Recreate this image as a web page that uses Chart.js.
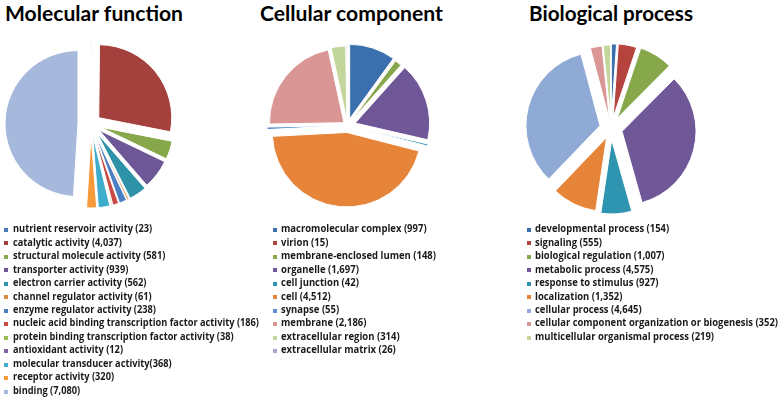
<!DOCTYPE html>
<html>
<head>
<meta charset="utf-8">
<script src="https://cdn.jsdelivr.net/npm/chart.js@4"></script>
<style>
  html, body { margin:0; padding:0; background:#fff; }
  body { width:780px; height:398px; position:relative; overflow:hidden; font-family: Lato, "Open Sans", sans-serif; }
  canvas { position:absolute; }
  .title { position:absolute; top:0; font-weight:700; font-size:21px; line-height:1.2; color:#000; white-space:nowrap; transform-origin:0 0; }
  .legend { position:absolute; top:222.5px; font-family: "Open Sans", Lato, sans-serif; }
  .row { position:relative; height:13.47px; line-height:13.47px; font-size:10.5px; font-weight:700; color:#1a1a1a; white-space:nowrap; }
  .sw { position:absolute; top:5.5px; width:4px; height:4px; }
  .txt { position:absolute; top:-0.3px; display:inline-block; transform-origin:0 50%; }
</style>
</head>
<body>
<div class="title" id="t1" style="left:5px">Molecular function</div>
<div class="title" id="t2" style="left:260px">Cellular component</div>
<div class="title" id="t3" style="left:529px">Biological process</div>

<canvas id="c1" width="200" height="200" style="left:-9px; top:24px"></canvas>
<canvas id="c2" width="199" height="199" style="left:248px; top:26px"></canvas>
<canvas id="c3" width="200" height="199" style="left:511px; top:29px"></canvas>

<div class="legend" id="l1" style="left:0px"></div>
<div class="legend" id="l2" style="left:0px"></div>
<div class="legend" id="l3" style="left:0px"></div>

<script>
// ---- Data ----
const mfTitle = 'Molecular function';
const mfLabels = [
  'nutrient reservoir activity (23)',
  'catalytic activity (4,037)',
  'structural molecule activity (581)',
  'transporter activity (939)',
  'electron carrier activity (562)',
  'channel regulator activity (61)',
  'enzyme regulator activity (238)',
  'nucleic acid binding transcription factor activity (186)',
  'protein binding transcription factor activity (38)',
  'antioxidant activity (12)',
  'molecular transducer activity(368)',
  'receptor activity (320)',
  'binding (7,080)'
];
const mfValues = [23, 4037, 581, 939, 562, 61, 238, 186, 38, 12, 368, 320, 7080];

const ccTitle = 'Cellular component';
const ccLabels = [
  'macromolecular complex (997)',
  'virion (15)',
  'membrane-enclosed lumen (148)',
  'organelle (1,697)',
  'cell junction (42)',
  'cell (4,512)',
  'synapse (55)',
  'membrane (2,186)',
  'extracellular region (314)',
  'extracellular matrix (26)'
];
const ccValues = [997, 15, 148, 1697, 42, 4512, 55, 2186, 314, 26];

const bpTitle = 'Biological process';
const bpLabels = [
  'developmental process (154)',
  'signaling (555)',
  'biological regulation (1,007)',
  'metabolic process (4,575)',
  'response to stimulus (927)',
  'localization (1,352)',
  'cellular process (4,645)',
  'cellular component organization or biogenesis (352)',
  'multicellular organismal process (219)'
];
const bpValues = [154, 555, 1007, 4575, 927, 1352, 4645, 352, 219];

// ---- Styles ----
const mfColors = ['#4a7ebb','#a5413c','#86a84a','#6e5796','#2e93a8','#d98a40','#4a7fc4','#c84a44','#9bbb59','#8064a2','#3eaccb','#f79a3c','#a6b9dc'];
const ccColors = ['#3a70ad','#b5443f','#86a84a','#6f5798','#2e94b0','#e6853a','#5b8fcf','#d99694','#c3d69b','#b3a2c7'];
const bpColors = ['#3a70ad','#b5443f','#86a84a','#6f5798','#2e94b0','#e6853a','#8faad4','#d99694','#c3d69b'];
const mfExplode = [11,10,10,10,11,11,11,11,11,11,11,11,13];
const ccExplode = [7,6,6,8,8,7,6,4.5,5,5];
const bpExplode = [10.5,11,12,11.4,11.5,10,11.4,9,9.5];

// plugin: pull each slice out along its mid angle
const explodePlugin = {
  id: 'explode',
  beforeDatasetDraw(chart, args, opts) {
    const ca = chart.chartArea;
    const cx = (ca.left + ca.right) / 2, cy = (ca.top + ca.bottom) / 2;
    args.meta.data.forEach((arc, i) => {
      const half = (arc.startAngle + arc.endAngle) / 2;
      const d = (opts.dist && opts.dist[i]) || 0;
      arc.x = cx + d * Math.cos(half);
      arc.y = cy + d * Math.sin(half);
    });
  }
};

function makePie(id, labels, values, colors, explode, radius) {
  return new Chart(document.getElementById(id), {
    type: 'pie',
    data: { labels, datasets: [{ data: values, backgroundColor: colors, borderColor: '#ffffff', borderWidth: 1, hoverOffset: 0, offset: 0 }] },
    options: {
      responsive: false,
      animation: false,
      devicePixelRatio: 1,
      radius: radius,
      layout: { padding: 0 },
      events: [],
      plugins: { legend: { display: false }, tooltip: { enabled: false }, explode: { dist: explode } }
    },
    plugins: [explodePlugin]
  });
}

makePie('c1', mfLabels, mfValues, mfColors, mfExplode, 73);
makePie('c2', ccLabels, ccValues, ccColors, ccExplode, 74.5);
makePie('c3', bpLabels, bpValues, bpColors, bpExplode, 74);

// ---- Legends (HTML text) ----
function buildLegend(id, labels, colors, swLeft, txtLeft) {
  const el = document.getElementById(id);
  labels.forEach((lab, i) => {
    const row = document.createElement('div');
    row.className = 'row';
    const sw = document.createElement('span');
    sw.className = 'sw';
    sw.style.left = swLeft + 'px';
    sw.style.background = colors[i];
    const tx = document.createElement('span');
    tx.className = 'txt';
    tx.style.left = txtLeft + 'px';
    tx.textContent = lab;
    row.appendChild(sw); row.appendChild(tx);
    el.appendChild(row);
  });
  return el;
}
const L1 = buildLegend('l1', mfLabels, mfColors, 4, 13);
const L2 = buildLegend('l2', ccLabels, ccColors, 273, 280.5);
const L3 = buildLegend('l3', bpLabels, bpColors, 527, 535);

function fitEl(el, target) {
  el.style.transform = '';
  const w = el.getBoundingClientRect().width;
  el.style.transform = 'scaleX(' + (target / w) + ')';
}
function fitLegend(el, refIndex, target) {
  const spans = el.querySelectorAll('.txt');
  const w = spans[refIndex].getBoundingClientRect().width;
  const k = target / w;
  spans.forEach(s => s.style.transform = 'scaleX(' + k + ')');
}
fitEl(document.getElementById('t1'), 178);
fitEl(document.getElementById('t2'), 183);
fitEl(document.getElementById('t3'), 164);
fitLegend(L1, 7, 246);
fitLegend(L2, 2, 155);
fitLegend(L3, 7, 243);
</script>
</body>
</html>
